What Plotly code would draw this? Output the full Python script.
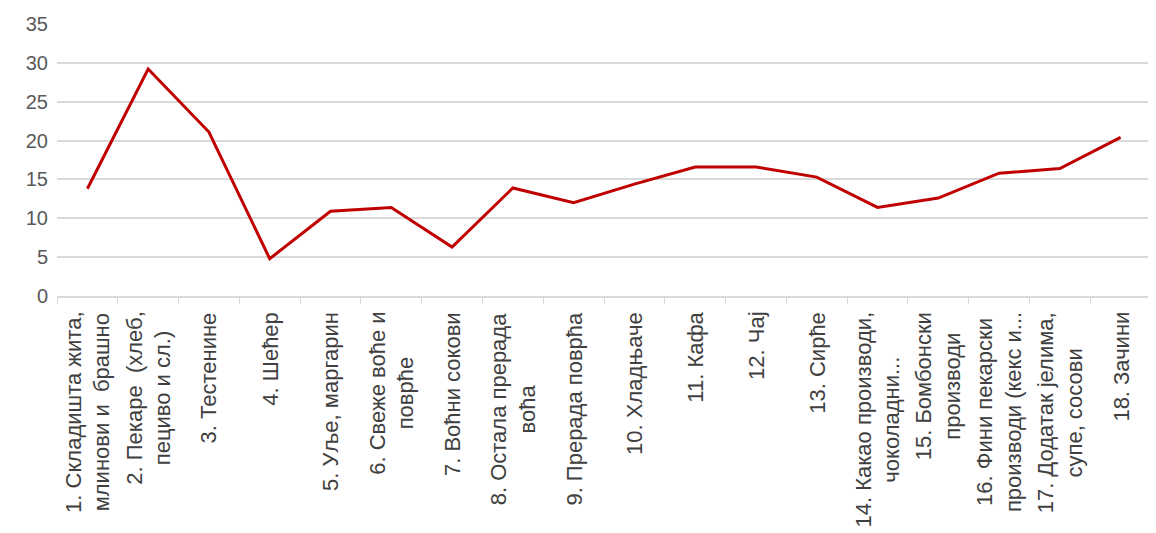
import plotly.graph_objects as go

labels = [
    "1. Складишта жита,<br>млинови и  брашно",
    "2. Пекаре  (хлеб,<br>пециво и сл.)",
    "3. Тестенине",
    "4. Шећер",
    "5. Уље, маргарин",
    "6. Свеже воће и<br>поврће",
    "7. Воћни сокови",
    "8. Остала прерада<br>воћа",
    "9. Прерада поврћа",
    "10. Хладњаче",
    "11. Кафа",
    "12. Чај",
    "13. Сирће",
    "14. Какао производи,<br>чоколадни...",
    "15. Бомбонски<br>производи",
    "16. Фини пекарски<br>производи (кекс и...",
    "17. Додатак јелима,<br>супе, сосови",
    "18. Зачини",
]
values = [13.8, 29.2, 21.1, 4.8, 10.9, 11.4, 6.3, 13.9, 12.0,
          14.4, 16.6, 16.6, 15.3, 11.4, 12.6, 15.8, 16.4, 20.4]
yticks = [0, 5, 10, 15, 20, 25, 30, 35]

fig = go.Figure()
fig.add_trace(go.Scatter(
    x=labels, y=values, mode="lines",
    line=dict(color="#C00000", width=3),
))

# x labels as rotated annotations so multi-line text is centred
for lab in labels:
    fig.add_annotation(
        x=lab, y=0, xref="x", yref="y",
        text=lab, showarrow=False, textangle=-90,
        xanchor="center", yanchor="top", align="center", yshift=-14,
        font=dict(family="Liberation Sans, Arial", size=22, color="#404040"),
    )

# page body has an 8px margin, so the figure is a bit smaller than the window
fig.update_layout(
    width=1148, height=525,
    margin=dict(l=49, r=5, t=14, b=237),
    plot_bgcolor="white", paper_bgcolor="white",
    showlegend=False,
    font=dict(family="Liberation Sans, Arial", color="#595959"),
)
fig.update_xaxes(
    type="category", showticklabels=False, showgrid=False,
    showline=True, linecolor="#d9d9d9", linewidth=1.5,
    ticks="outside", tickson="boundaries", ticklen=6, tickcolor="#d9d9d9",
    range=[-0.5, len(labels) - 0.5],
)
fig.update_yaxes(
    range=[0, 35], tickvals=yticks, showgrid=True, gridcolor="#d9d9d9",
    gridwidth=1.5, zeroline=False, showline=False,
    tickfont=dict(size=20, color="#595959"), ticks="", ticklabelstandoff=8,
)

fig.write_html("out.html")
